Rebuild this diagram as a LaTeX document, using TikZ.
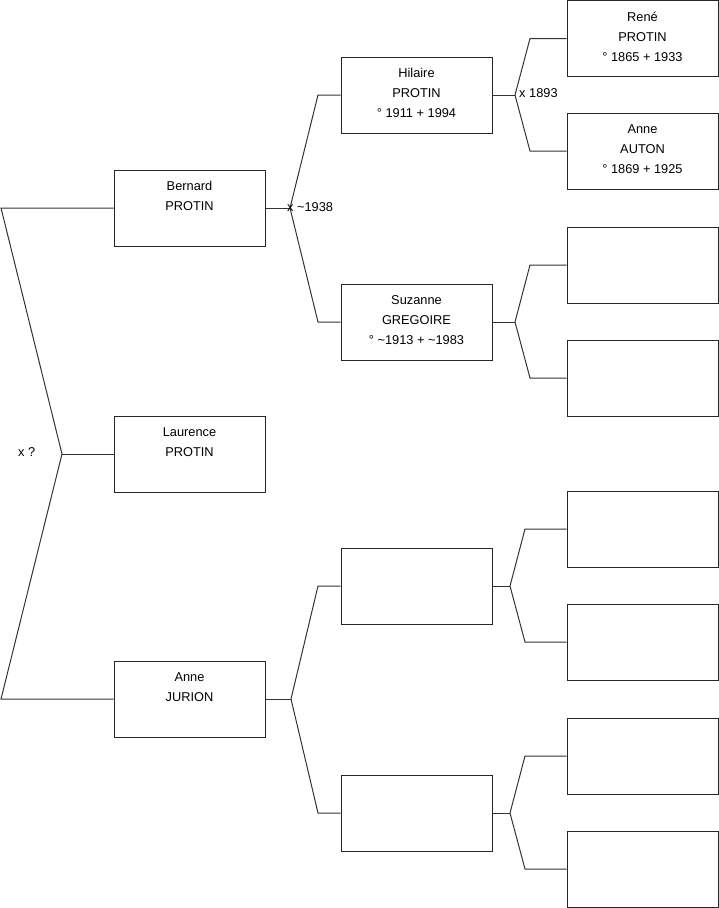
\documentclass[tikz,border=0pt]{standalone}
\usepackage{fontspec}
\setmainfont{Liberation Sans}
\tikzset{
  pbox/.style={draw=black!85, line width=1pt, minimum width=151pt, minimum height=76pt, inner sep=0pt},
  ptext/.style={anchor=north, inner sep=0pt, font=\fontsize{12.8}{20}\selectfont},
  link/.style={draw=black!80, line width=1pt},
  mlabel/.style={anchor=west, inner sep=0pt, font=\fontsize{12.8}{15}\selectfont}
}
\newcommand\person[4]{%
  \node[pbox] (#1) at (#2,#3) {};
  \node[ptext] at ([yshift=-7pt]#1.north) {\parbox[t]{151pt}{\centering\strut #4}};
}
\begin{document}
\begin{tikzpicture}[x=1pt,y=-1pt]
\useasboundingbox (0,0) rectangle (719,908);
% generation 1
\person{bernard}{189.5}{208}{Bernard\\PROTIN}
\person{laurence}{189.5}{454}{Laurence\\PROTIN}
\person{jurion}{189.5}{699}{Anne\\JURION}
% generation 2
\person{hilaire}{416.5}{95}{Hilaire\\PROTIN\\° 1911 + 1994}
\person{suzanne}{416.5}{322}{Suzanne\\GREGOIRE\\° \textasciitilde1913 + \textasciitilde1983}
\person{ea}{416.5}{586}{}
\person{eb}{416.5}{813}{}
% generation 3
\person{rene}{642.5}{38.5}{René\\PROTIN\\° 1865 + 1933}
\person{auton}{642.5}{151}{Anne\\AUTON\\° 1869 + 1925}
\person{g3a}{642.5}{265}{}
\person{g3b}{642.5}{378}{}
\person{g3c}{642.5}{529}{}
\person{g3d}{642.5}{642}{}
\person{g3e}{642.5}{756}{}
\person{g3f}{642.5}{869}{}
% fork coordinates
\coordinate (L0) at (1,208);
\coordinate (F0) at (62,454);
\coordinate (L1) at (1,699);
\coordinate (F1) at (290,208);
\coordinate (C1a) at (318,95);
\coordinate (C1b) at (318,322);
\coordinate (F2) at (515,95);
\coordinate (C2a) at (530,38.5);
\coordinate (C2b) at (530,151);
\coordinate (F3) at (515,322);
\coordinate (C3a) at (530,265);
\coordinate (C3b) at (530,378);
\coordinate (F4) at (291,699);
\coordinate (C4a) at (318,586);
\coordinate (C4b) at (318,813);
\coordinate (F5) at (510,586);
\coordinate (C5a) at (525,529);
\coordinate (C5b) at (525,642);
\coordinate (F6) at (510,813);
\coordinate (C6a) at (525,756);
\coordinate (C6b) at (525,869);
% connectors
\draw[link] (bernard.west) -- (L0) -- (F0) -- (L1) -- (jurion.west);
\draw[link] (F0) -- (laurence.west);
\draw[link] (bernard.east) -- (F1);
\draw[link] (F1) -- (C1a) -- (hilaire.west);
\draw[link] (F1) -- (C1b) -- (suzanne.west);
\draw[link] (hilaire.east) -- (F2);
\draw[link] (F2) -- (C2a) -- (rene.west);
\draw[link] (F2) -- (C2b) -- (auton.west);
\draw[link] (suzanne.east) -- (F3);
\draw[link] (F3) -- (C3a) -- (g3a.west);
\draw[link] (F3) -- (C3b) -- (g3b.west);
\draw[link] (jurion.east) -- (F4);
\draw[link] (F4) -- (C4a) -- (ea.west);
\draw[link] (F4) -- (C4b) -- (eb.west);
\draw[link] (ea.east) -- (F5);
\draw[link] (F5) -- (C5a) -- (g3c.west);
\draw[link] (F5) -- (C5b) -- (g3d.west);
\draw[link] (eb.east) -- (F6);
\draw[link] (F6) -- (C6a) -- (g3e.west);
\draw[link] (F6) -- (C6b) -- (g3f.west);
% marriage labels
\node[mlabel] (m0) at (18,452) {x ?};
\node[mlabel] (m1) at (287,207) {x \textasciitilde1938};
\node[mlabel] (m2) at (519,93) {x 1893};
\end{tikzpicture}
\end{document}
